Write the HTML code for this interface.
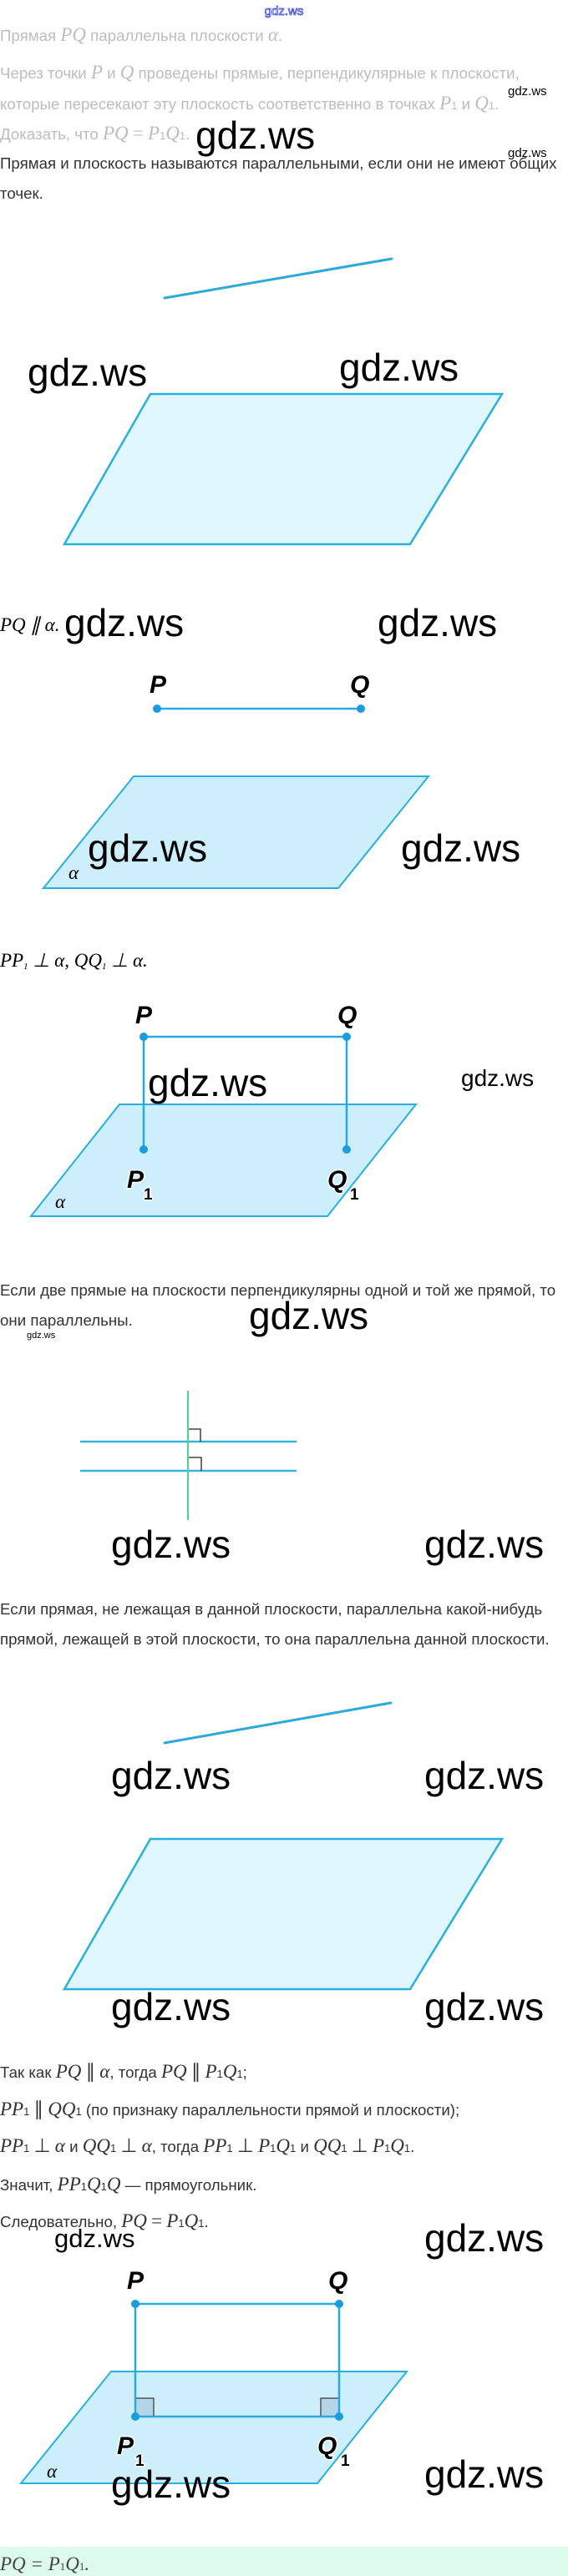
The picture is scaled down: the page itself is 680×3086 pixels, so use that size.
<!DOCTYPE html>
<html><head><meta charset="utf-8"><style>
html,body{margin:0;padding:0;background:#fff;width:680px;height:3086px;overflow:hidden}
svg{display:block}
.g{font-family:"Liberation Sans",sans-serif;fill:#000}
.t{font-family:"Liberation Sans","Noto Sans CJK SC",sans-serif;font-size:18.7px}
.m{font-family:"Liberation Serif",serif;font-style:italic;font-size:23px}
.mr{font-family:"Liberation Serif",serif;font-size:23px}
.lb{font-family:"Liberation Sans",sans-serif;font-weight:bold;font-style:italic;font-size:30px;fill:#000;stroke:#fff;stroke-width:3px;paint-order:stroke}
.sb{font-family:"Liberation Sans",sans-serif;font-weight:bold;font-size:19px;fill:#000;stroke:#fff;stroke-width:3px;paint-order:stroke}
</style></head><body>
<svg width="680" height="3086" viewBox="0 0 680 3086" xmlns="http://www.w3.org/2000/svg">
<text x="340" y="18" text-anchor="middle" font-family="Liberation Sans,sans-serif" font-size="15" fill="#fff" stroke="#3344dd" stroke-width="0.8">gdz.ws</text>

<g fill="#bdbdbd">
<text class="t" x="0" y="49">Прямая <tspan class="m">PQ</tspan> параллельна плоскости <tspan class="m">α</tspan>.</text>
<text class="t" x="0" y="94">Через точки <tspan class="m">P</tspan> и <tspan class="m">Q</tspan> проведены прямые, перпендикулярные к плоскости,</text>
<text class="t" x="0" y="131">которые пересекают эту плоскость соответственно в точках <tspan class="m">P</tspan><tspan font-size="13">1</tspan> и <tspan class="m">Q</tspan><tspan font-size="13">1</tspan>.</text>
<text class="t" x="0" y="167">Доказать, что <tspan class="m">PQ</tspan> <tspan class="mr">=</tspan> <tspan class="m">P</tspan><tspan font-size="13">1</tspan><tspan class="m">Q</tspan><tspan font-size="13">1</tspan>.</text>
</g>
<text class="g" x="608" y="114" font-size="15">gdz.ws</text>
<text class="g" x="234" y="178" font-size="46">gdz.ws</text>
<text class="g" x="608" y="188" font-size="15">gdz.ws</text>

<g fill="#333">
<text class="t" x="0" y="202">Прямая и плоскость называются параллельными, если они не имеют общих</text>
<text class="t" x="0" y="238">точек.</text>
</g>

<line x1="197" y1="357" x2="469" y2="310" stroke="#29a9dc" stroke-width="3" stroke-linecap="round"/>
<text class="g" x="33" y="462" font-size="46">gdz.ws</text>
<text class="g" x="406" y="456" font-size="46">gdz.ws</text>
<polygon points="180,472 601,472 491,652 77,652" fill="#e0f7fd" stroke="#29b0e0" stroke-width="2.5"/>

<text class="m" x="0" y="756" font-size="17">PQ ∥ α.</text>
<text class="g" x="77" y="762" font-size="46">gdz.ws</text>
<text class="g" x="452" y="762" font-size="46">gdz.ws</text>
<text class="lb" x="179" y="830">P</text>
<text class="lb" x="419" y="830">Q</text>
<line x1="188" y1="849" x2="432" y2="849" stroke="#29a9e0" stroke-width="2.5"/>
<circle cx="188" cy="849" r="5" fill="#1b9be0"/><circle cx="432" cy="849" r="5" fill="#1b9be0"/>
<polygon points="160,930 513,930 405,1064 52,1064" fill="#cdeefb" stroke="#29aee3" stroke-width="2"/>
<text class="m" x="82" y="1053">α</text>
<text class="g" x="105" y="1032" font-size="46">gdz.ws</text>
<text class="g" x="480" y="1032" font-size="46">gdz.ws</text>

<text class="m" x="0" y="1158" font-size="17">PP<tspan font-size="11" dy="3">1</tspan><tspan dy="-3"> ⊥ α, QQ</tspan><tspan font-size="11" dy="3">1</tspan><tspan dy="-3"> ⊥ α.</tspan></text>
<polygon points="143,1323 498,1323 392,1457 37,1457" fill="#cdeefb" stroke="#29aee3" stroke-width="2"/>
<text class="lb" x="162" y="1226">P</text>
<text class="lb" x="404" y="1226">Q</text>
<line x1="172" y1="1242" x2="415" y2="1242" stroke="#29a9e0" stroke-width="2.5"/>
<line x1="172" y1="1242" x2="172" y2="1377" stroke="#29a9e0" stroke-width="2.5"/>
<line x1="415" y1="1242" x2="415" y2="1377" stroke="#29a9e0" stroke-width="2.5"/>
<circle cx="172" cy="1242" r="5" fill="#1b9be0"/><circle cx="415" cy="1242" r="5" fill="#1b9be0"/>
<circle cx="172" cy="1377" r="5" fill="#1b9be0"/><circle cx="415" cy="1377" r="5" fill="#1b9be0"/>
<text class="g" x="177" y="1313" font-size="46">gdz.ws</text>
<text class="g" x="552" y="1301" font-size="28">gdz.ws</text>
<text class="lb" x="152" y="1423">P</text><text class="sb" x="172" y="1437">1</text>
<text class="lb" x="392" y="1423">Q</text><text class="sb" x="419" y="1437">1</text>
<text class="m" x="66" y="1447">α</text>

<g fill="#333">
<text class="t" x="0" y="1552">Если две прямые на плоскости перпендикулярны одной и той же прямой, то</text>
<text class="t" x="0" y="1588">они параллельны.</text>
</g>
<text class="g" x="298" y="1592" font-size="46">gdz.ws</text>
<text class="g" x="32" y="1603" font-size="11">gdz.ws</text>

<line x1="96" y1="1727" x2="355" y2="1727" stroke="#35b3dc" stroke-width="2.5"/>
<line x1="96" y1="1762" x2="355" y2="1762" stroke="#35b3dc" stroke-width="2.5"/>
<line x1="225" y1="1666" x2="225" y2="1821" stroke="#4ed28e" stroke-width="2"/>
<polyline points="226,1712 240,1712 240,1727" fill="none" stroke="#222" stroke-width="1.3"/>
<polyline points="226,1746 241,1746 241,1762" fill="none" stroke="#222" stroke-width="1.3"/>
<text class="g" x="133" y="1866" font-size="46">gdz.ws</text>
<text class="g" x="508" y="1866" font-size="46">gdz.ws</text>

<g fill="#333">
<text class="t" x="0" y="1934">Если прямая, не лежащая в данной плоскости, параллельна какой-нибудь</text>
<text class="t" x="0" y="1970">прямой, лежащей в этой плоскости, то она параллельна данной плоскости.</text>
</g>

<line x1="197" y1="2088" x2="468" y2="2040" stroke="#29a9dc" stroke-width="3" stroke-linecap="round"/>
<text class="g" x="133" y="2143" font-size="46">gdz.ws</text>
<text class="g" x="508" y="2143" font-size="46">gdz.ws</text>
<polygon points="180,2203 601,2203 491,2383 77,2383" fill="#e0f7fd" stroke="#29b0e0" stroke-width="2.5"/>
<text class="g" x="133" y="2420" font-size="46">gdz.ws</text>
<text class="g" x="508" y="2420" font-size="46">gdz.ws</text>

<g fill="#333">
<text class="t" x="0" y="2489">Так как <tspan class="m">PQ</tspan> <tspan class="mr">∥</tspan> <tspan class="m">α</tspan>, тогда <tspan class="m">PQ</tspan> <tspan class="mr">∥</tspan> <tspan class="m">P</tspan><tspan font-size="13">1</tspan><tspan class="m">Q</tspan><tspan font-size="13">1</tspan>;</text>
<text class="t" x="0" y="2534"><tspan class="m">PP</tspan><tspan font-size="13">1</tspan> <tspan class="mr">∥</tspan> <tspan class="m">QQ</tspan><tspan font-size="13">1</tspan> (по признаку параллельности прямой и плоскости);</text>
<text class="t" x="0" y="2578"><tspan class="m">PP</tspan><tspan font-size="13">1</tspan> <tspan class="mr">⊥</tspan> <tspan class="m">α</tspan> и <tspan class="m">QQ</tspan><tspan font-size="13">1</tspan> <tspan class="mr">⊥</tspan> <tspan class="m">α</tspan>, тогда <tspan class="m">PP</tspan><tspan font-size="13">1</tspan> <tspan class="mr">⊥</tspan> <tspan class="m">P</tspan><tspan font-size="13">1</tspan><tspan class="m">Q</tspan><tspan font-size="13">1</tspan> и <tspan class="m">QQ</tspan><tspan font-size="13">1</tspan> <tspan class="mr">⊥</tspan> <tspan class="m">P</tspan><tspan font-size="13">1</tspan><tspan class="m">Q</tspan><tspan font-size="13">1</tspan>.</text>
<text class="t" x="0" y="2624">Значит, <tspan class="m">PP</tspan><tspan font-size="13">1</tspan><tspan class="m">Q</tspan><tspan font-size="13">1</tspan><tspan class="m">Q</tspan> — прямоугольник.</text>
<text class="t" x="0" y="2668">Следовательно, <tspan class="m">PQ</tspan> <tspan class="mr">=</tspan> <tspan class="m">P</tspan><tspan font-size="13">1</tspan><tspan class="m">Q</tspan><tspan font-size="13">1</tspan>.</text>
</g>
<text class="g" x="65" y="2692" font-size="31">gdz.ws</text>
<text class="g" x="508" y="2697" font-size="46">gdz.ws</text>

<polygon points="133,2841 487,2841 380,2975 25,2975" fill="#cdeefb" stroke="#29aee3" stroke-width="2"/>
<rect x="162" y="2873" width="22" height="22" fill="#b6d4e8" stroke="#333" stroke-width="1.2"/>
<rect x="384" y="2873" width="22" height="22" fill="#b6d4e8" stroke="#333" stroke-width="1.2"/>
<rect x="162" y="2760" width="244" height="135" fill="none" stroke="#29a9e0" stroke-width="2.5"/>
<circle cx="162" cy="2760" r="5" fill="#1b9be0"/><circle cx="406" cy="2760" r="5" fill="#1b9be0"/>
<circle cx="162" cy="2895" r="5" fill="#1b9be0"/><circle cx="406" cy="2895" r="5" fill="#1b9be0"/>
<text class="lb" x="152" y="2742" font-size="32">P</text>
<text class="lb" x="393" y="2742" font-size="32">Q</text>
<text class="lb" x="140" y="2940" font-size="32">P</text><text class="sb" x="162" y="2954">1</text>
<text class="lb" x="380" y="2940" font-size="32">Q</text><text class="sb" x="408" y="2954">1</text>
<text class="m" x="56" y="2968">α</text>
<text class="g" x="133" y="2992" font-size="46">gdz.ws</text>
<text class="g" x="508" y="2980" font-size="46">gdz.ws</text>

<rect x="0" y="3051" width="680" height="35" fill="#dcfbea"/>
<text class="m" x="0" y="3079" fill="#444">PQ <tspan class="mr">=</tspan> P<tspan font-size="13" font-style="normal">1</tspan>Q<tspan font-size="13" font-style="normal">1</tspan>.</text>
</svg>
</body></html>
